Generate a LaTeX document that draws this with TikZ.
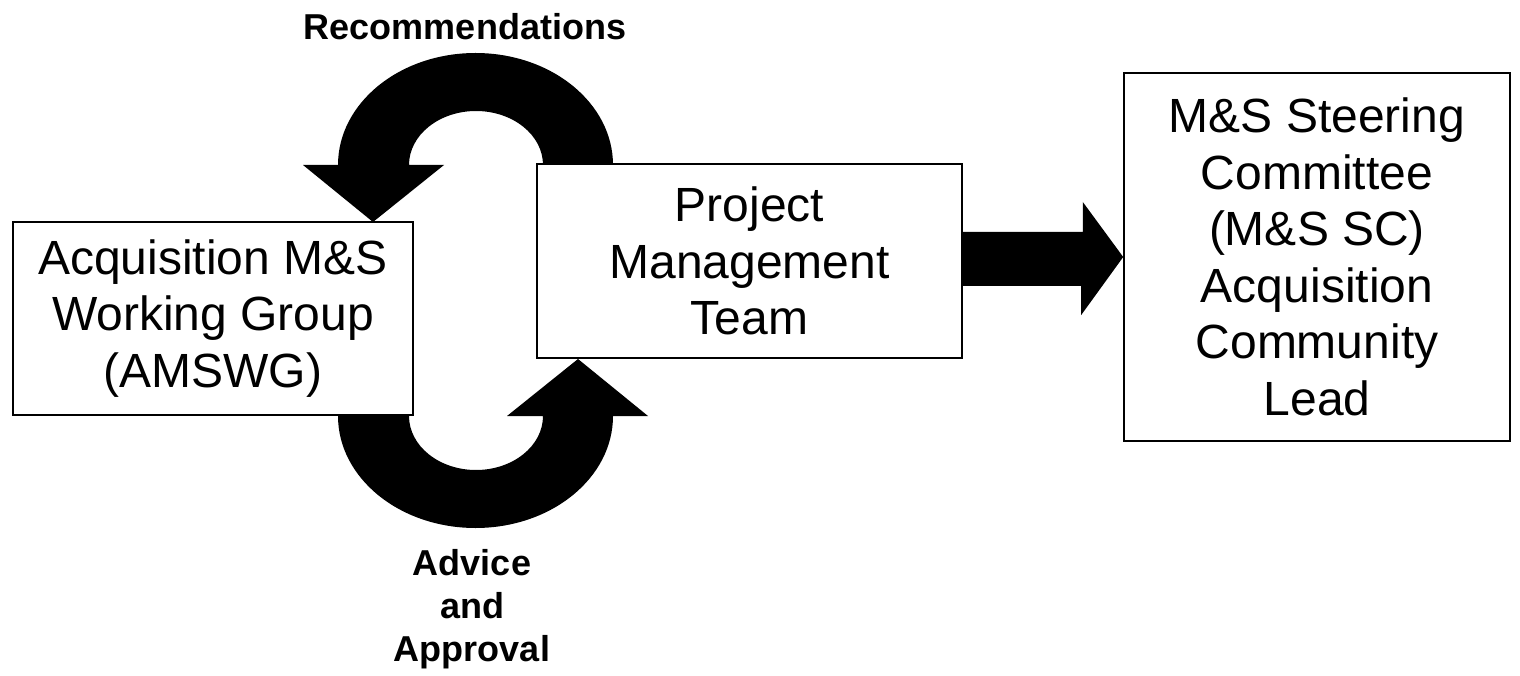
\documentclass[tikz,border=0pt]{standalone}
\usepackage{fontspec}
\setmainfont{Liberation Sans}
\begin{document}
\begin{tikzpicture}[x=1pt,y=-1pt,
  box/.style={draw=black, line width=1.6pt, fill=white, align=center, inner sep=0pt,
    font=\fontsize{48}{56.5}\selectfont},
  lbl/.style={align=center, inner sep=0pt, font=\fontsize{36}{43}\selectfont\bfseries},
  blockarrow/.style={fill=black, draw=none}]
\useasboundingbox (0,0) rectangle (1520,676);
% boxes
\node[box, minimum width=400pt, minimum height=193pt] (amswg) at (213,318.5)
  {Acquisition M\&S\\Working Group\\(AMSWG)};
\node[box, minimum width=425pt, minimum height=194pt] (pm) at (749.5,261)
  {Project\\Management\\Team};
\node[box, minimum width=386pt, minimum height=368pt] (sc) at (1317,257)
  {M\&S Steering\\Committee\\(M\&S SC)\\Acquisition\\Community\\Lead};
% labels
\node[lbl] (rec) at (465,27) {Recommendations};
\node[lbl] (adv) at (472,609) {Advice\\and\\Approval};
% top curved arrow (PM -> AMSWG)
\fill[blockarrow] (613,165) arc[start angle=0, end angle=-180, x radius=137.5, y radius=112]
  -- (303,165) -- (373,222) -- (444,165) -- (409,165)
  arc[start angle=180, end angle=360, x radius=67, y radius=54] -- cycle;
% bottom curved arrow (AMSWG -> PM)
\fill[blockarrow] (338,416) arc[start angle=180, end angle=0, x radius=137.5, y radius=112]
  -- (648,416) -- (578,359) -- (507,416) -- (543,416)
  arc[start angle=0, end angle=180, x radius=67, y radius=54] -- cycle;
% straight arrow PM -> SC
\fill[blockarrow] (pm.east) ++(0,-29) -- ++(120,0) -- ++(0,-30) -- (sc.west)
  -- ++(-42,58) -- ++(0,-29) -- ++(-120,0) -- cycle;
\end{tikzpicture}
\end{document}
